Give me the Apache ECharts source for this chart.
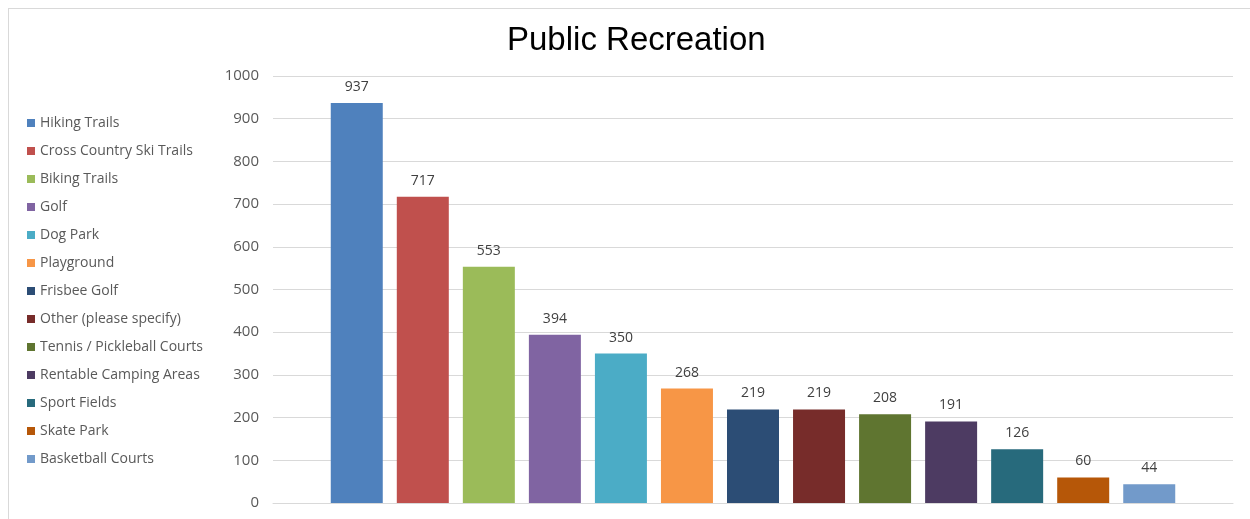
<!DOCTYPE html>
<html>
<head>
<meta charset="utf-8">
<script src="https://cdn.jsdelivr.net/npm/echarts@6/dist/echarts.min.js"></script>
<style>
  html, body { margin: 0; padding: 0; background: #fff; }
  #chart { width: 1250px; height: 519px; }
  .frame {
    position: absolute; left: 8px; top: 8px; width: 1242px; height: 511px;
    border-left: 1px solid #d9d9d9; border-top: 1px solid #d9d9d9;
    pointer-events: none;
  }
</style>
</head>
<body>
<div id="chart"></div>
<div class="frame"></div>
<script>
const seriesNames = [
  'Hiking Trails', 'Cross Country Ski Trails', 'Biking Trails', 'Golf', 'Dog Park',
  'Playground', 'Frisbee Golf', 'Other (please specify)', 'Tennis / Pickleball Courts',
  'Rentable Camping Areas', 'Sport Fields', 'Skate Park', 'Basketball Courts'
]
const seriesValues = [937, 717, 553, 394, 350, 268, 219, 219, 208, 191, 126, 60, 44]
const colors = [
  '#4f81bd', '#c0504d', '#9bbb59', '#8064a2', '#4bacc6', '#f79646', '#2c4d75',
  '#772c2a', '#5f7530', '#4d3b62', '#276a7c', '#b65708', '#729aca'
]
const categories = ['']

const chart = echarts.init(document.getElementById('chart'))

const series = seriesNames.map((name, idx) => ({
  name,
  type: 'bar',
  data: [seriesValues[idx]],
  barWidth: 52,
  barGap: '27%',
  itemStyle: { color: colors[idx] },
  label: {
    show: true,
    position: 'top',
    distance: 9,
    color: '#404040',
    fontSize: 14,
    fontFamily: 'Open Sans',
  },
}))

chart.setOption({
  animation: false,
  title: {
    text: 'Public Recreation',
    left: 502,
    top: 19,
    textStyle: { fontFamily: 'Liberation Sans', fontWeight: 'normal', fontSize: 33, color: '#000' },
  },
  legend: {
    orient: 'vertical',
    left: 22,
    top: 111,
    icon: 'rect',
    itemWidth: 8,
    itemHeight: 8,
    itemGap: 14,
    textStyle: { color: '#595959', fontSize: 14, fontFamily: 'Open Sans' },
    data: seriesNames,
  },
  grid: { left: 273, right: 17, top: 76, bottom: 16 },
  xAxis: {
    type: 'category',
    data: categories,
    axisLine: { lineStyle: { color: '#d9d9d9' } },
    axisTick: { show: false },
    axisLabel: { show: false },
  },
  yAxis: {
    type: 'value',
    min: 0,
    max: 1000,
    interval: 100,
    axisLabel: { color: '#595959', fontSize: 15, fontFamily: 'Open Sans', margin: 14, formatter: v => String(v) },
    splitLine: { lineStyle: { color: '#d9d9d9' } },
  },
  series,
})
</script>
</body>
</html>
